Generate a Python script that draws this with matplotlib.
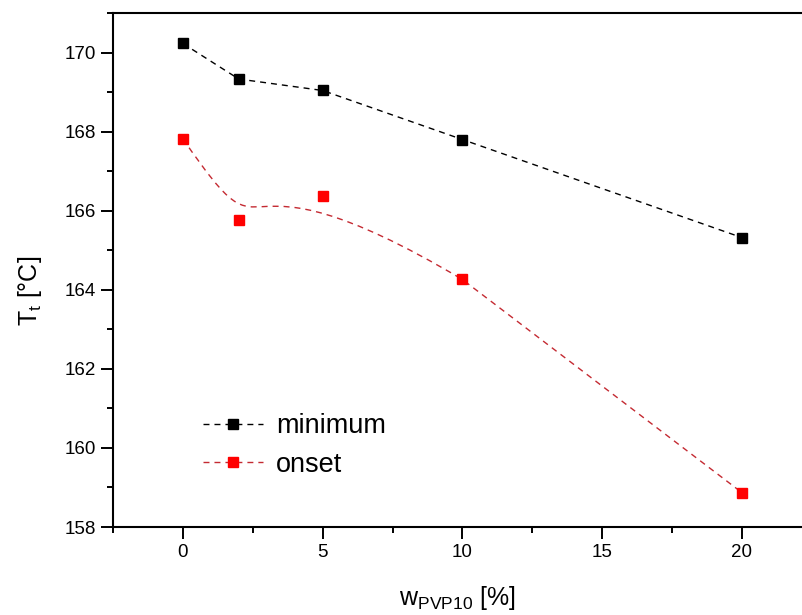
import numpy as np
import matplotlib
matplotlib.use('Agg')
import matplotlib.pyplot as plt
from matplotlib.path import Path
from matplotlib.patches import PathPatch
from matplotlib.ticker import MultipleLocator
from matplotlib.lines import Line2D

plt.rcParams['font.family'] = ['Liberation Sans', 'DejaVu Sans']
plt.rcParams['mathtext.fontset'] = 'custom'
plt.rcParams['mathtext.rm'] = 'Liberation Sans'
plt.rcParams['mathtext.it'] = 'Liberation Sans:italic'

# данные
w_pvp = [0, 2, 5, 10, 20]
t_min = [170.23, 169.33, 169.04, 167.80, 165.32]
t_onset = [167.82, 165.76, 166.36, 164.26, 158.87]

red_line = '#c42a32'
dash = (4.3, 3.6)
# натяжение ручек Безье
k1, k2 = 1.75, 1.8

fig = plt.figure(figsize=(8.02, 6.15), dpi=100)
ax = fig.add_axes([113 / 802, 88 / 615, 689 / 802, 514 / 615])

# minimum: прямые отрезки
ax.plot(w_pvp, t_min, color='black', lw=1.0, dashes=dash, zorder=2)
ax.plot(w_pvp, t_min, ls='none', marker='s', ms=7.8, color='black', zorder=3)

# onset: кривая Безье (точки 1 и 2 задают ручки) + прямой отрезок до последней
pts = np.column_stack([w_pvp, t_onset])
c1 = pts[0] + k1 * (pts[1] - pts[0])
c2 = pts[3] + k2 * (pts[2] - pts[3])
verts = [pts[0], c1, c2, pts[3], pts[4]]
codes = [Path.MOVETO, Path.CURVE4, Path.CURVE4, Path.CURVE4, Path.LINETO]
patch = PathPatch(Path(verts, codes), facecolor='none', edgecolor=red_line,
                  lw=1.0, linestyle=(0, dash), zorder=2)
ax.add_patch(patch)
ax.plot(w_pvp, t_onset, ls='none', marker='s', ms=7.8, color='#ff0000', zorder=3)

ax.set_xlim(-2.5, 22.15)
ax.set_ylim(158, 171)

ax.xaxis.set_major_locator(MultipleLocator(5))
ax.xaxis.set_minor_locator(MultipleLocator(2.5))
ax.yaxis.set_major_locator(MultipleLocator(2))
ax.yaxis.set_minor_locator(MultipleLocator(1))

ax.tick_params(which='major', direction='out', length=8.5, width=1.4,
               labelsize=13.5, pad=4, top=False, right=False)
ax.tick_params(which='minor', direction='out', length=4.3, width=1.4,
               top=False, right=False)

for s in ['left', 'bottom', 'top']:
    ax.spines[s].set_linewidth(1.5)
ax.spines['right'].set_visible(False)

ax.set_xlabel(r'w$_{\mathrm{PVP10}}$ [%]', fontsize=18)
ax.set_ylabel(r'T$_{\mathrm{t}}$ [°C]', fontsize=18)
ax.xaxis.set_label_coords(0.5, -0.11)
ax.yaxis.set_label_coords(-0.10, 0.46)

handles = [
    Line2D([], [], color='black', lw=1.0, dashes=dash, marker='s', ms=7,
           markerfacecolor='black', markeredgecolor='black'),
    Line2D([], [], color=red_line, lw=1.0, dashes=dash, marker='s', ms=7,
           markerfacecolor='#ff0000', markeredgecolor='#ff0000'),
]
ax.legend(handles, ['minimum', 'onset'], loc='upper left',
          bbox_to_anchor=(0.115, 0.242), frameon=False, fontsize=19.5,
          handlelength=2.2, handletextpad=0.5, numpoints=1,
          labelspacing=0.45, borderaxespad=0)

fig.savefig('out.png', dpi=100)
